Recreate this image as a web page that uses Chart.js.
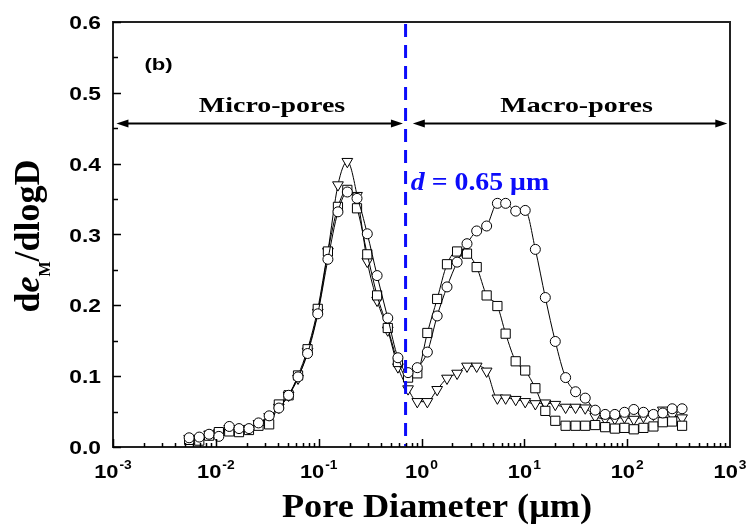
<!DOCTYPE html>
<html>
<head>
<meta charset="utf-8">
<script src="https://cdn.jsdelivr.net/npm/chart.js@4.4.1/dist/chart.umd.min.js"></script>
<style>
    html, body { margin: 0; padding: 0; background: #fff; }
    #wrap { width: 755px; height: 529px; position: relative; }
</style>
</head>
<body>
<div id="wrap"><canvas id="psdChart"></canvas></div>
<script>
// Pore diameters (µm) shared by all three curves
const diameters = [0.0055, 0.0069, 0.0086, 0.0107, 0.0135, 0.0168, 0.021, 0.026, 0.033, 0.041,
    0.051, 0.063, 0.078, 0.098, 0.123, 0.154, 0.19, 0.236, 0.297, 0.37,
    0.47, 0.59, 0.74, 0.91, 1.14, 1.42, 1.77, 2.22, 2.77, 3.44,
    4.3, 5.47, 6.58, 8.24, 10.2, 12.8, 16.0, 20.0, 25.2, 31.5,
    39.1, 48.9, 61.1, 75.9, 94.2, 116, 144, 180, 222, 274, 342];

// de_M/dlogD values
const circleSeries = [0.013, 0.014, 0.018, 0.015, 0.029, 0.026, 0.026, 0.034, 0.044, 0.055,
    0.073, 0.099, 0.132, 0.188, 0.265, 0.332, 0.360, 0.351, 0.301, 0.242,
    0.182, 0.126, 0.105, 0.112, 0.134, 0.185, 0.226, 0.261, 0.287, 0.305,
    0.312, 0.344, 0.344, 0.333, 0.334, 0.279, 0.211, 0.149, 0.098, 0.078,
    0.069, 0.052, 0.046, 0.046, 0.049, 0.053, 0.049, 0.046, 0.048, 0.054, 0.054];
const squareSeries = [0.010, 0.009, 0.016, 0.021, 0.022, 0.021, 0.024, 0.030, 0.032, 0.060,
    0.073, 0.101, 0.138, 0.195, 0.276, 0.339, 0.363, 0.337, 0.272, 0.214,
    0.168, 0.120, 0.098, 0.104, 0.161, 0.209, 0.258, 0.276, 0.273, 0.254,
    0.214, 0.199, 0.160, 0.121, 0.108, 0.083, 0.051, 0.037, 0.030, 0.030,
    0.030, 0.031, 0.028, 0.026, 0.027, 0.025, 0.027, 0.029, 0.035, 0.036, 0.030];
const triangleSeries = [0.012, 0.012, 0.018, 0.020, 0.026, 0.025, 0.026, 0.033, 0.043, 0.056,
    0.073, 0.097, 0.135, 0.190, 0.276, 0.370, 0.403, 0.355, 0.262, 0.207,
    0.165, 0.113, 0.082, 0.064, 0.064, 0.081, 0.097, 0.104, 0.114, 0.114,
    0.107, 0.069, 0.069, 0.067, 0.064, 0.061, 0.062, 0.060, 0.056, 0.056,
    0.055, 0.043, 0.040, 0.040, 0.042, 0.039, 0.043, 0.046, 0.052, 0.045, 0.041];

// Axis ticks
const xTickExponents = [-3, -2, -1, 0, 1, 2, 3];
const yTickValues = [0, 0.1, 0.2, 0.3, 0.4, 0.5, 0.6];

// Annotations (data coordinates)
const boundaryDiameter = 0.7;
const arrowLevel = 0.4566;
const microArrow = [0.00108, 0.66];
const macroArrow = [0.823, 942];
const regionLabels = [
    { text: 'Micro-pores', x: 0.0352, y: 0.4735 },
    { text: 'Macro-pores', x: 32.2, y: 0.4735 }
];
const panelLabel = { text: '(b)', x: 0.00277, y: 0.532 };
const boundaryLabel = { x: 0.787, y: 0.3634 };

const BLUE = 'rgb(12,12,250)';
const SANS = '"Liberation Sans", Arial, sans-serif';
const SERIF = '"Liberation Serif", "Times New Roman", serif';

function pointsOf(values) {
    return diameters.map((d, i) => ({ x: d, y: values[i] }));
}

// text with a horizontal stretch, the source figure's lettering is wide
function wideText(ctx, text, x, y, font, align, sx) {
    ctx.save();
    ctx.font = font;
    ctx.textAlign = align;
    ctx.translate(x, y);
    ctx.scale(sx, 1);
    ctx.fillText(text, 0, 0);
    ctx.restore();
}

function drawArrow(ctx, x1, x2, y) {
    const head = 12, half = 4;
    ctx.beginPath();
    ctx.moveTo(x1 + head - 2, y);
    ctx.lineTo(x2 - head + 2, y);
    ctx.stroke();
    ctx.beginPath();
    ctx.moveTo(x1, y);
    ctx.lineTo(x1 + head, y - half);
    ctx.lineTo(x1 + head, y + half);
    ctx.closePath();
    ctx.fill();
    ctx.beginPath();
    ctx.moveTo(x2, y);
    ctx.lineTo(x2 - head, y - half);
    ctx.lineTo(x2 - head, y + half);
    ctx.closePath();
    ctx.fill();
}

const overlayPlugin = {
    id: 'overlay',
    afterDatasetsDraw(chart) {
        const { ctx, chartArea, scales } = chart;
        const x = scales.x.getPixelForValue(boundaryDiameter);
        ctx.save();
        ctx.strokeStyle = BLUE;
        ctx.lineWidth = 3;
        ctx.setLineDash([13, 8]);
        ctx.beginPath();
        ctx.moveTo(x, chartArea.top + 2);
        ctx.lineTo(x, chartArea.bottom);
        ctx.stroke();
        ctx.restore();
    },
    afterDraw(chart) {
        const { ctx, chartArea, scales } = chart;
        const xs = scales.x, ys = scales.y;
        ctx.save();

        // frame
        ctx.strokeStyle = '#222';
        ctx.lineWidth = 2;
        ctx.strokeRect(chartArea.left, chartArea.top, chartArea.right - chartArea.left, chartArea.bottom - chartArea.top);

        // inward ticks
        ctx.strokeStyle = '#000';
        ctx.lineWidth = 1.5;
        ctx.beginPath();
        for (let k = 0; k <= 12; k++) {
            const py = Math.round(ys.getPixelForValue(k * 0.05)) + 0.5;
            const len = k % 2 === 0 ? 8 : 5;
            ctx.moveTo(chartArea.left, py);
            ctx.lineTo(chartArea.left + len, py);
        }
        for (let e = -3; e <= 2; e++) {
            for (let m = 1; m <= 9; m++) {
                const px = Math.round(xs.getPixelForValue(m * Math.pow(10, e))) + 0.5;
                const len = m === 1 ? 8 : 4;
                ctx.moveTo(px, chartArea.bottom);
                ctx.lineTo(px, chartArea.bottom - len);
            }
        }
        ctx.stroke();

        ctx.fillStyle = '#000';
        ctx.textBaseline = 'alphabetic';

        // y tick labels
        yTickValues.forEach(v => {
            const py = ys.getPixelForValue(v);
            wideText(ctx, v.toFixed(1), chartArea.left - 12, py + 7, 'bold 19px ' + SANS, 'right', 1.2);
        });

        // x tick labels 10^n
        const sxTick = 1.15;
        xTickExponents.forEach(n => {
            const px = xs.getPixelForValue(Math.pow(10, n));
            const exp = n < 0 ? '-' + Math.abs(n) : String(n);
            ctx.font = 'bold 19px ' + SANS;
            const wBase = ctx.measureText('10').width * sxTick;
            ctx.font = 'bold 12px ' + SANS;
            const wExp = ctx.measureText(exp).width * sxTick;
            const start = px - (wBase + wExp + 1) / 2;
            wideText(ctx, '10', start, 478, 'bold 19px ' + SANS, 'left', sxTick);
            wideText(ctx, exp, start + wBase + 1, 469, 'bold 12px ' + SANS, 'left', sxTick);
        });

        // x axis title
        wideText(ctx, 'Pore Diameter (\u03bcm)', 437, 517, 'bold 33px ' + SERIF, 'center', 1.1);

        // y axis title: de_M/dlogD
        ctx.save();
        ctx.translate(39, 236);
        ctx.rotate(-Math.PI / 2);
        ctx.textAlign = 'left';
        const big = 'bold 36px ' + SERIF;
        const bigIt = 'italic bold 36px ' + SERIF;
        const small = 'bold 16px ' + SERIF;
        const parts = [
            { t: 'd', f: big, dy: 0 },
            { t: 'e', f: bigIt, dy: 0 },
            { t: 'M', f: small, dy: 11 },
            { t: '/dlogD', f: big, dy: 0 }
        ];
        let total = 0;
        parts.forEach(p => { ctx.font = p.f; p.w = ctx.measureText(p.t).width; total += p.w; });
        let cx = -total / 2;
        parts.forEach(p => { ctx.font = p.f; ctx.fillText(p.t, cx, p.dy); cx += p.w; });
        ctx.restore();

        // region arrows and labels
        const ay = ys.getPixelForValue(arrowLevel);
        ctx.strokeStyle = '#000';
        ctx.fillStyle = '#000';
        ctx.lineWidth = 2;
        drawArrow(ctx, xs.getPixelForValue(microArrow[0]), xs.getPixelForValue(microArrow[1]), ay);
        drawArrow(ctx, xs.getPixelForValue(macroArrow[0]), xs.getPixelForValue(macroArrow[1]), ay);

        regionLabels.forEach(l => {
            wideText(ctx, l.text, xs.getPixelForValue(l.x), ys.getPixelForValue(l.y), 'bold 22px ' + SERIF, 'center', 1.27);
        });

        wideText(ctx, panelLabel.text, xs.getPixelForValue(panelLabel.x), ys.getPixelForValue(panelLabel.y), 'bold 17px ' + SANS, 'center', 1.3);

        // boundary label
        ctx.fillStyle = BLUE;
        let bx = xs.getPixelForValue(boundaryLabel.x);
        const by = ys.getPixelForValue(boundaryLabel.y);
        const sxB = 1.07;
        ctx.font = 'italic bold 26px ' + SERIF;
        const wd = ctx.measureText('d').width * sxB;
        wideText(ctx, 'd', bx, by, 'italic bold 26px ' + SERIF, 'left', sxB);
        wideText(ctx, ' = 0.65 \u03bcm', bx + wd, by, 'bold 26px ' + SERIF, 'left', sxB);

        ctx.restore();
    }
};

const seriesStyle = {
    borderColor: '#000',
    borderWidth: 1,
    pointBackgroundColor: '#fff',
    pointBorderColor: '#000',
    pointBorderWidth: 1,
    cubicInterpolationMode: 'monotone',
    fill: false
};

new Chart(document.getElementById('psdChart'), {
    type: 'line',
    data: {
        datasets: [
            Object.assign({ label: 'circle', data: pointsOf(circleSeries), pointStyle: 'circle', pointRadius: 5 }, seriesStyle),
            Object.assign({ label: 'square', data: pointsOf(squareSeries), pointStyle: 'rect', pointRadius: 6.5 }, seriesStyle),
            Object.assign({ label: 'triangle', data: pointsOf(triangleSeries), pointStyle: 'triangle', pointRotation: 180, pointRadius: 6.2 }, seriesStyle)
        ]
    },
    options: {
        responsive: true,
        maintainAspectRatio: false,
        animation: false,
        devicePixelRatio: 1,
        layout: { padding: { top: 22, right: 25, left: 0, bottom: 0 } },
        plugins: {
            legend: { display: false },
            tooltip: { enabled: false }
        },
        elements: { point: { hoverRadius: 5 } },
        scales: {
            x: {
                type: 'logarithmic',
                min: 0.001,
                max: 1000,
                grid: { display: false, drawTicks: false },
                border: { display: true, color: '#000', width: 2 },
                ticks: { display: false },
                afterFit: s => { s.height = 82; }
            },
            y: {
                min: 0,
                max: 0.6,
                grid: { display: false, drawTicks: false },
                border: { display: true, color: '#000', width: 2 },
                ticks: { display: false },
                afterFit: s => { s.width = 113; }
            }
        }
    },
    plugins: [overlayPlugin]
});
</script>
</body>
</html>
